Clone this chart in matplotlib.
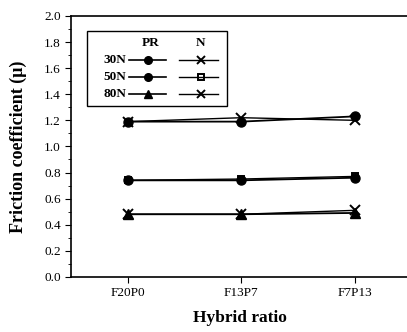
import matplotlib.pyplot as plt
from matplotlib.ticker import MultipleLocator

plt.rcParams['font.family'] = ['Liberation Serif', 'DejaVu Serif']

ratios = ['F20P0', 'F13P7', 'F7P13']
loads = ['30N', '50N', '80N']

# PR = filled markers, N = crossed markers
pr_30 = [1.19, 1.19, 1.23]
pr_50 = [0.74, 0.74, 0.76]
pr_80 = [0.48, 0.48, 0.49]
n_30 = [1.19, 1.22, 1.20]
n_50 = [0.74, 0.75, 0.77]
n_80 = [0.48, 0.48, 0.51]

x = [1, 2, 3]

fig = plt.figure(figsize=(4.07, 3.32), dpi=100)
ax = fig.add_axes([0.175, 0.166, 0.83, 0.786])

pr_marks = ['o', 'o', '^']
n_marks = ['x', 's', 'x']
for ys, m in zip([pr_30, pr_50, pr_80], pr_marks):
    ax.plot(x, ys, c='black', lw=1.3, marker=m, ms=6.5, mfc='black', mec='black')
for ys, m in zip([n_30, n_50, n_80], n_marks):
    ax.plot(x, ys, c='black', lw=1.0, marker=m, ms=7 if m == 'x' else 4,
            mfc='none', mec='black', mew=1.4)

ax.set_xlim(0.5, 3.48)
ax.set_ylim(0, 2.0)
ax.set_xticks(x)
ax.set_xticklabels(ratios)
ax.yaxis.set_major_locator(MultipleLocator(0.2))
ax.yaxis.set_minor_locator(MultipleLocator(0.1))
ax.yaxis.set_major_formatter(plt.FormatStrFormatter('%.1f'))
ax.tick_params(axis='both', which='major', labelsize=9.5, length=4, direction='out')
ax.tick_params(axis='y', which='minor', length=2, direction='out')
ax.spines['right'].set_visible(False)
for s in ['left', 'bottom', 'top']:
    ax.spines[s].set_linewidth(1.2)

ax.set_xlabel('Hybrid ratio', fontsize=12.5, fontweight='bold', labelpad=8)
ax.set_ylabel('Friction coefficient (\u03bc)', fontsize=13, fontweight='bold', labelpad=12)

# hand-made legend box
lx0, lx1, ly0, ly1 = 0.048, 0.461, 0.655, 0.943
ax.add_patch(plt.Rectangle((lx0, ly0), lx1 - lx0, ly1 - ly0, transform=ax.transAxes,
                           fill=False, ec='black', lw=1.0, clip_on=False))
ax.text(0.235, 0.895, 'PR', transform=ax.transAxes, ha='center', va='center',
        fontsize=9.5, fontweight='bold')
ax.text(0.384, 0.895, 'N', transform=ax.transAxes, ha='center', va='center',
        fontsize=9.5, fontweight='bold')
rows_y = [0.831, 0.766, 0.701]
for lab, yy, pm, nm in zip(loads, rows_y, pr_marks, n_marks):
    ax.text(0.163, yy, lab, transform=ax.transAxes, ha='right', va='center',
            fontsize=9.5, fontweight='bold')
    ax.plot([0.17, 0.28], [yy, yy], transform=ax.transAxes, c='black', lw=1.2,
            clip_on=False)
    ax.plot([0.226], [yy], transform=ax.transAxes, c='black', marker=pm, ms=5.5,
            clip_on=False)
    ax.plot([0.32, 0.435], [yy, yy], transform=ax.transAxes, c='black', lw=1.0,
            clip_on=False)
    ax.plot([0.384], [yy], transform=ax.transAxes, c='black', marker=nm,
            ms=6 if nm == 'x' else 4, mfc='none', mew=1.4, clip_on=False)

fig.savefig('out.png', dpi=100)
